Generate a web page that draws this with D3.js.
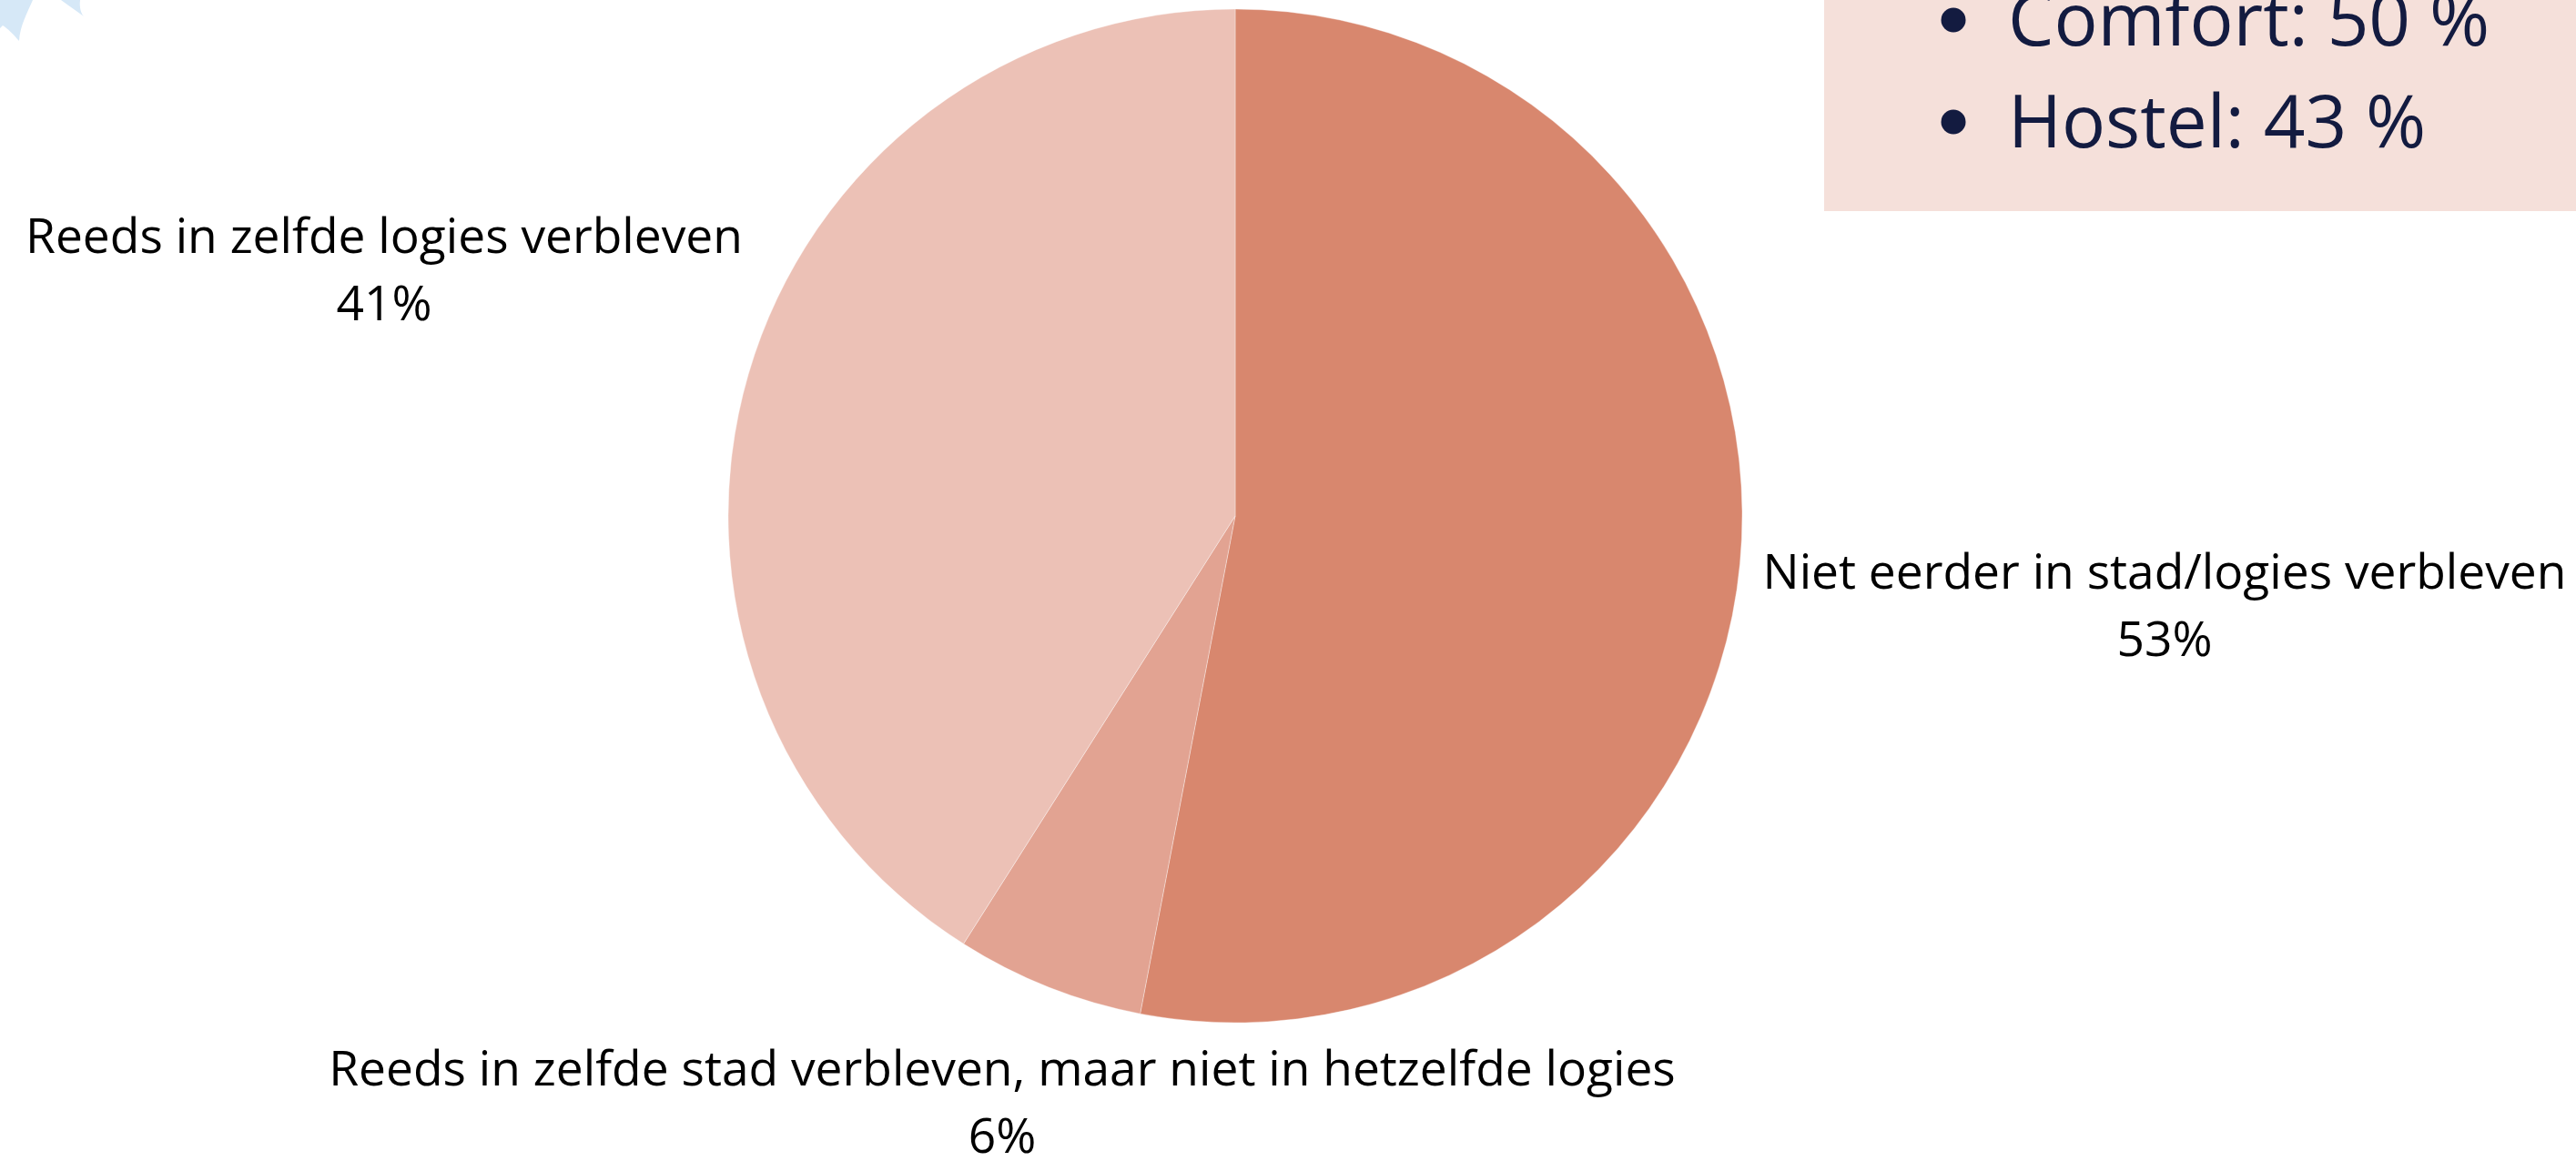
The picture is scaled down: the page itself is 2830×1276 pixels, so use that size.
<!DOCTYPE html>
<html>
<head>
<meta charset="utf-8">
<script src="https://cdn.jsdelivr.net/npm/d3@7"></script>
<style>
  html, body { margin: 0; padding: 0; background: #fff; }
  svg { display: block; }
  text { font-family: "Open Sans", sans-serif; }
</style>
</head>
<body>
<svg id="chart" width="2830" height="1276"></svg>
<script>
// ---- data ----
const categories = [
  "Niet eerder in stad/logies verbleven",
  "Reeds in zelfde stad verbleven, maar niet in hetzelfde logies",
  "Reeds in zelfde logies verbleven"
];
const values = [53, 6, 41];
const valueLabels = ["53%", "6%", "41%"];
const sliceColors = ["#D8876E", "#E2A392", "#ECC1B6"];
const boxItems = ["Comfort: 50 %", "Hostel: 43 %"];

// ---- drawing ----
const svg = d3.select("#chart");
const W = 2830, H = 1276;

// decorative corner shapes
svg.append("path")
  .attr("d", "M0,0 L36,0 C30,14 22,28 21,45 C15,38 8,31 3,28 L0,31 Z")
  .attr("fill", "#D6E8F7");
svg.append("path")
  .attr("d", "M67,0 L88,0 C87,8 89,15 92,18 C84,12 75,6 67,0 Z")
  .attr("fill", "#D6E8F7");

// info box
const box = svg.append("g");
box.append("rect")
  .attr("x", 2004).attr("y", -10)
  .attr("width", W - 2004 + 10).attr("height", 242)
  .attr("fill", "#F5E0DA");
const bx = 2206, by0 = 50, bstep = 112;
box.selectAll("circle.bullet").data(boxItems).join("circle")
  .attr("class", "bullet")
  .attr("cx", 2146)
  .attr("cy", (d, i) => by0 + i * bstep - 28)
  .attr("r", 13.5)
  .attr("fill", "#131B40");
box.selectAll("text.item").data(boxItems).join("text")
  .attr("class", "item")
  .attr("x", bx)
  .attr("y", (d, i) => by0 + i * bstep)
  .attr("font-size", 80)
  .attr("fill", "#131B40")
  .text(d => d);

// pie
const cx = 1357, cy = 567, R = 557;
const pie = d3.pie().sort(null).value(d => d)(values);
const arc = d3.arc().innerRadius(0).outerRadius(R);
const g = svg.append("g").attr("transform", `translate(${cx},${cy})`);
g.selectAll("path").data(pie).join("path")
  .attr("d", arc)
  .attr("fill", (d, i) => sliceColors[i])
  .attr("stroke", "#ffffff")
  .attr("stroke-opacity", 0.35)
  .attr("stroke-width", 1);

// labels (positions per slice)
const labelPos = [
  { x: 2378, y: 647 },
  { x: 1101, y: 1193 },
  { x: 422, y: 278 }
];
const lg = svg.append("g");
pie.forEach((d, i) => {
  const t = lg.append("text")
    .attr("text-anchor", "middle")
    .attr("font-size", 53.3)
    .attr("fill", "#000");
  t.append("tspan").attr("x", labelPos[i].x).attr("y", labelPos[i].y).text(categories[i]);
  t.append("tspan").attr("x", labelPos[i].x).attr("y", labelPos[i].y + 74).text(valueLabels[i]);
});
</script>
</body>
</html>
